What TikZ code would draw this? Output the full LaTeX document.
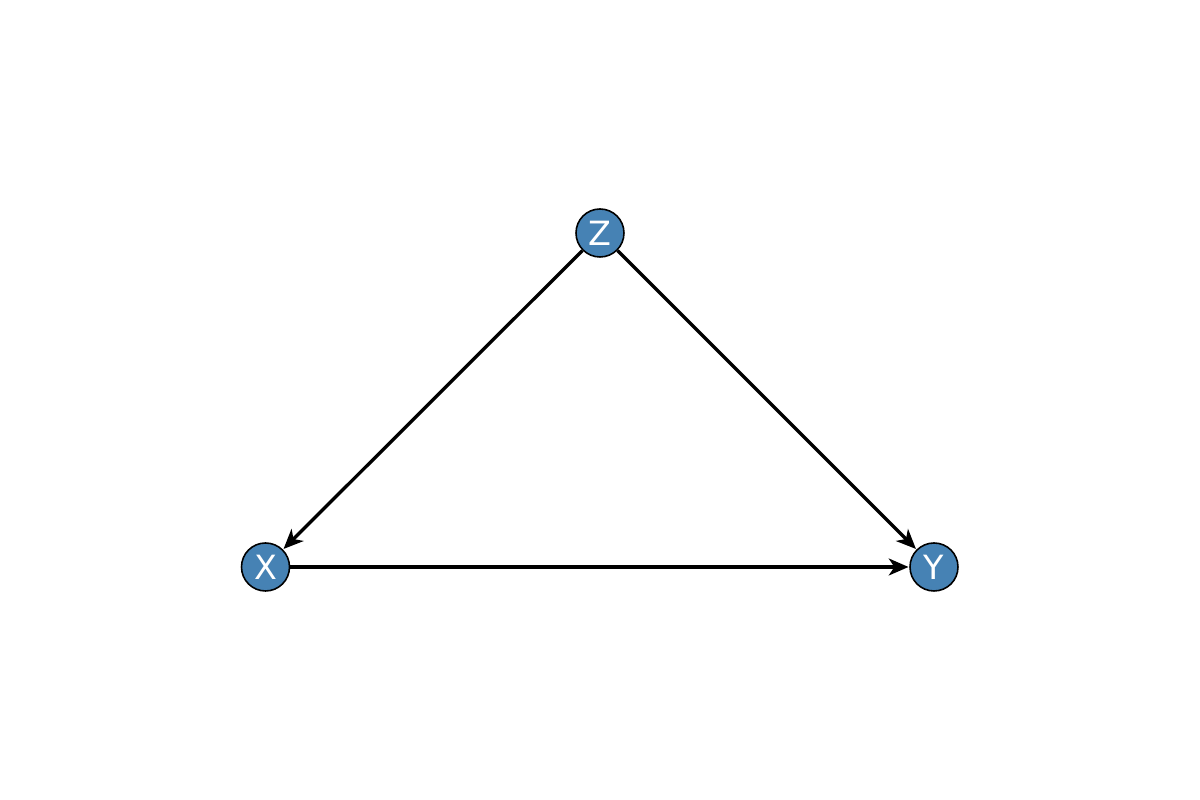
\documentclass[tikz,border=0pt]{standalone}
\usepackage{fontspec}
\setmainfont{DejaVu Sans}
\usetikzlibrary{arrows.meta}
\begin{document}
\begin{tikzpicture}
\useasboundingbox (0,0) rectangle (12,8);
\tikzset{
  var/.style={circle, draw=black, line width=0.45pt, fill={rgb,255:red,70;green,130;blue,180},
    minimum size=0.48cm, inner sep=0pt, text=white, font=\fontsize{9.5}{11}\selectfont},
  edge/.style={line width=0.95pt, -{Stealth[length=5.6pt,width=4.8pt,inset=1.6pt]}, shorten >=0.2pt}
}
\node[var] (Z) at (6.00,5.67) {Z};
\node[var] (X) at (2.655,2.33) {X};
\node[var] (Y) at (9.34,2.33) {Y};
\draw[edge] (Z) -- (X);
\draw[edge] (Z) -- (Y);
\draw[edge] (X) -- (Y);
\end{tikzpicture}
\end{document}
